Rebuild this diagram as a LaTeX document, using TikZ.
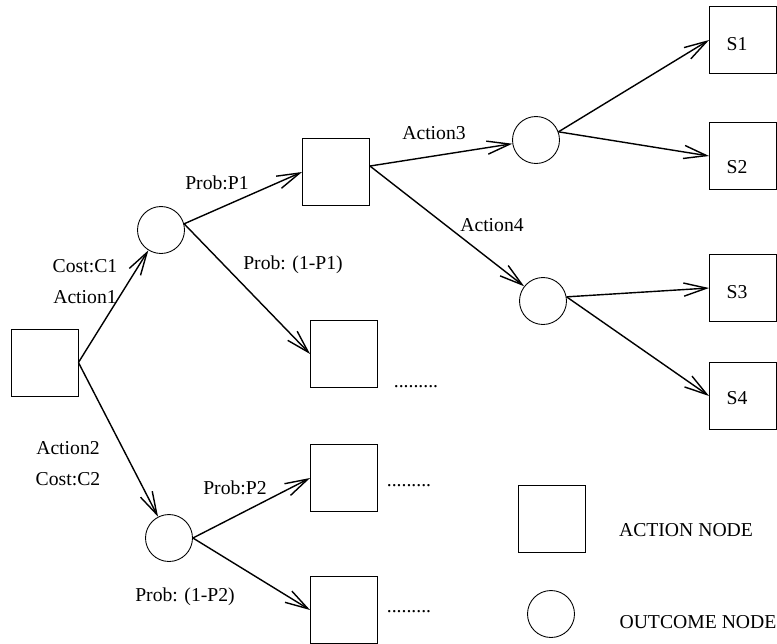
\documentclass[tikz,border=0pt]{standalone}
\usepackage{fontspec}
\setmainfont{Liberation Serif}
\usetikzlibrary{arrows.meta,positioning}

\begin{document}
\begin{tikzpicture}[
    x=0.02cm, y=-0.02cm,
    every node/.style={font=\fontsize{11.2}{13}\selectfont},
    actnode/.style={draw, line width=0.5pt, minimum size=1.34cm, inner sep=0pt},
    outnode/.style={draw, circle, line width=0.5pt, minimum size=0.94cm, inner sep=0pt},
    link/.style={-{Straight Barb[length=13pt,width=7.5pt]}, line width=0.8pt}
]
    \useasboundingbox (0,0) rectangle (777,643);

    % decision tree
    \node[actnode] (root) at (44.5,362.5) {};
    \node[outnode] (c1) at (161,230) {};
    \node[outnode] (c2) at (169,538) {};
    \node[actnode] (p1) at (336,172) {};
    \node[actnode] (q1) at (344,354) {};
    \node[actnode] (p2) at (344,478) {};
    \node[actnode] (q2) at (344,610) {};
    \node[outnode] (c3) at (536,140) {};
    \node[outnode] (c4) at (543,301) {};
    \node[actnode] (s1) at (743,40) {};
    \node[actnode] (s2) at (743,156) {};
    \node[actnode] (s3) at (743,288) {};
    \node[actnode] (s4) at (743,396) {};

    \node (s1txt) at (737,44) {S1};
    \node (s2txt) at (737,167) {S2};
    \node (s3txt) at (737,292) {S3};
    \node (s4txt) at (737,398) {S4};

    \draw[link] (root.east) -- (c1);
    \draw[link] (root.east) -- (c2);
    \draw[link] (c1.15) -- (p1.west);
    \draw[link] (c1.15) -- (q1.west);
    \draw[link] (c2.east) -- (p2.west);
    \draw[link] (c2.east) -- (q2.west);
    \draw[link] (p1.10) -- (c3);
    \draw[link] (p1.10) -- (c4);
    \draw[link] (c3.20) -- (s1.west);
    \draw[link] (c3.20) -- (s2.west);
    \draw[link] (c4.10) -- (s3.west);
    \draw[link] (c4.10) -- (s4.west);

    % edge labels
    \node (cost1) at (85,266) {Cost:C1};
    \node (act1) at (85,297) {Action1};
    \node (act2) at (68,448) {Action2};
    \node (cost2) at (68,479) {Cost:C2};
    \node (prob1) at (217,183) {Prob:P1};
    \node (nprob1) at (293,265) {Prob: (1-P1)};
    \node (prob2) at (235,488) {Prob:P2};
    \node (nprob2) at (185,597) {Prob: (1-P2)};
    \node (act3) at (434,133) {Action3};
    \node (act4) at (492,225) {Action4};

    \node[anchor=base] (dots1) at (416,387) {.........};
    \node[anchor=base] (dots2) at (409,486) {.........};
    \node[anchor=base] (dots3) at (409,612) {.........};

    % legend
    \node[actnode] (legact) at (552,519) {};
    \node (legacttxt) at (686,530) {ACTION NODE};
    \node[outnode] (legout) at (551,614) {};
    \node (legouttxt) at (698,622) {OUTCOME NODE};
\end{tikzpicture}
\end{document}
